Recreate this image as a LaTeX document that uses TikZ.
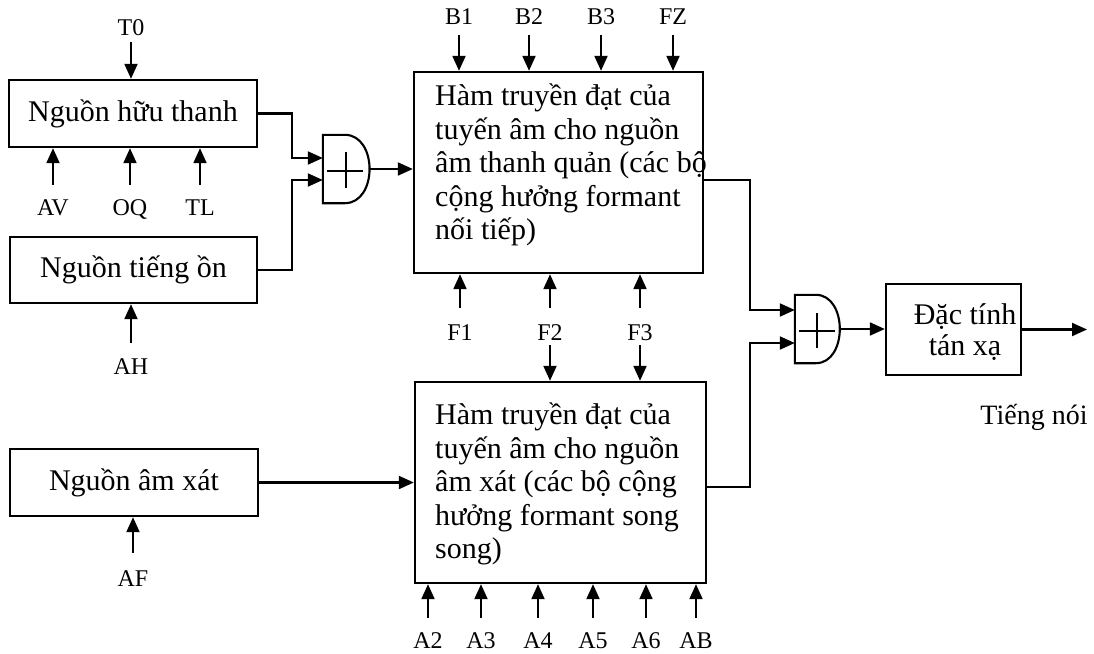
\documentclass[tikz,border=0pt]{standalone}
\usepackage{fontspec}
\setmainfont{Liberation Serif}
\usetikzlibrary{arrows.meta,calc}
\begin{document}
\begin{tikzpicture}[x=1pt,y=-1pt,
 box/.style={draw, line width=2.4pt, inner sep=0pt, font=\fontsize{30}{33.5}\selectfont},
 btxt/.style={inner sep=0pt, align=left, font=\fontsize{30}{33.5}\selectfont},
 lbl/.style={inner sep=0pt, font=\fontsize{24}{26}\selectfont, text height=16pt, text depth=0pt},
 adder/.style={inner sep=0pt, minimum width=46pt, minimum height=68pt},
 wire/.style={line width=2.1pt},
 arr/.style={wire, -{Triangle[length=15pt,width=13pt]}},
]
\useasboundingbox (0,0) rectangle (1094,653);

% source boxes
\node[box, minimum width=248pt, minimum height=67pt] (hthanh) at (133,113.5) {Nguồn hữu thanh};
\node[box, minimum width=247pt, minimum height=66pt] (ton) at (133.5,270) {Nguồn tiếng ồn};
\node[box, minimum width=248pt, minimum height=67pt] (axat) at (134,482.5) {Nguồn âm xát};

% transfer function boxes
\node[box, minimum width=289pt, minimum height=201pt] (H1) at (558.5,172.5) {};
\node[btxt, anchor=west] (H1t) at (435,165) {Hàm truyền đạt của\\tuyến âm cho nguồn\\âm thanh quản (các bộ\\cộng hưởng formant\\nối tiếp)};
\node[box, minimum width=291pt, minimum height=201pt] (H2) at (560.5,482.5) {};
\node[btxt, anchor=west] (H2t) at (435,484) {Hàm truyền đạt của\\tuyến âm cho nguồn\\âm xát (các bộ cộng\\hưởng formant song\\song)};

% radiation box
\node[box, minimum width=135pt, minimum height=91pt] (D) at (953.5,329.5) {};
\node[btxt, align=center, font=\fontsize{30}{31}\selectfont] (Dt) at (965,332.5) {Đặc tính\\tán xạ};
\coordinate (out) at (1087,329.5);
\node[inner sep=0pt, font=\fontsize{28}{30}\selectfont] (speech) at (1034,417) {Tiếng nói};

% adders
\node[adder, minimum width=47pt] (add1) at (346.5,169) {};
\draw[wire] (add1.north west) -- ($(add1.north west)+(22,0)$)
  .. controls ($(add1.north west)+(55,0)$) and ($(add1.south west)+(55,0)$) .. ($(add1.south west)+(22,0)$)
  -- (add1.south west) -- cycle;
\draw[wire] ($(add1.center)+(-19.5,2)$) -- ($(add1.center)+(16.5,2)$);
\draw[wire] ($(add1.center)+(-0.5,-17)$) -- ($(add1.center)+(-0.5,19)$);

\node[adder, minimum width=45pt] (add2) at (817.5,329) {};
\draw[wire] (add2.north west) -- ($(add2.north west)+(21,0)$)
  .. controls ($(add2.north west)+(53,0)$) and ($(add2.south west)+(53,0)$) .. ($(add2.south west)+(21,0)$)
  -- (add2.south west) -- cycle;
\draw[wire] ($(add2.center)+(-18.5,2)$) -- ($(add2.center)+(17.5,2)$);
\draw[wire] ($(add2.center)+(-0.5,-16)$) -- ($(add2.center)+(-0.5,19)$);

% main signal path
\draw[arr] (hthanh.east) -- ++(34,0) |- ($(add1.west)+(0,-11)$);
\draw[arr] (ton.east) -- ++(34,0) |- ($(add1.west)+(0,11)$);
\draw[arr] (add1.east) -- (add1.east -| H1.west);
\draw[arr] (axat.east) -- (H2.west);
\draw[arr] ($(H1.east)+(0,7.5)$) -- ++(46,0) |- ($(add2.west)+(0,-19)$);
\draw[arr] ($(H2.east)+(0,4.5)$) -- ++(43,0) |- ($(add2.west)+(0,14)$);
\draw[arr] (add2.east) -- (add2.east -| D.west);
\draw[arr] (D.east) -- (out);

% parameter labels
\node[lbl] (T0) at (131,27) {T0};
\node[lbl] (AV) at (53,207) {AV};
\node[lbl] (OQ) at (130,207) {OQ};
\node[lbl] (TL) at (200,207) {TL};
\node[lbl] (AH) at (131,366) {AH};
\node[lbl] (AF) at (133,578) {AF};
\node[lbl] (B1) at (459,16) {B1};
\node[lbl] (B2) at (529,16) {B2};
\node[lbl] (B3) at (601,16) {B3};
\node[lbl] (FZ) at (673,16) {FZ};
\node[lbl] (F1) at (460,332) {F1};
\node[lbl] (F2) at (550,332) {F2};
\node[lbl] (F3) at (640,332) {F3};
\node[lbl] (A2) at (428,640) {A2};
\node[lbl] (A3) at (481,640) {A3};
\node[lbl] (A4) at (538,640) {A4};
\node[lbl] (A5) at (593,640) {A5};
\node[lbl] (A6) at (646,640) {A6};
\node[lbl] (AB) at (696,640) {AB};

% parameter arrows
\draw[arr, shorten <=7pt] (T0.south) -- (T0.south |- hthanh.north);
\foreach \p in {AV,OQ,TL}
  \draw[arr, shorten <=14pt] (\p.north) -- (\p.north |- hthanh.south);
\draw[arr, shorten <=15pt] (AH.north) -- (AH.north |- ton.south);
\draw[arr, shorten <=17pt] (AF.north) -- (AF.north |- axat.south);
\foreach \p in {B1,B2,B3,FZ}
  \draw[arr, shorten <=11pt] (\p.south) -- (\p.south |- H1.north);
\foreach \p in {F1,F2,F3}
  \draw[arr, shorten <=16pt] (\p.north) -- (\p.north |- H1.south);
\foreach \p in {F2,F3}
  \draw[arr, shorten <=5pt] (\p.south) -- (\p.south |- H2.north);
\foreach \p in {A2,A3,A4,A5,A6,AB}
  \draw[arr, shorten <=14pt] (\p.north) -- (\p.north |- H2.south);
\end{tikzpicture}
\end{document}
